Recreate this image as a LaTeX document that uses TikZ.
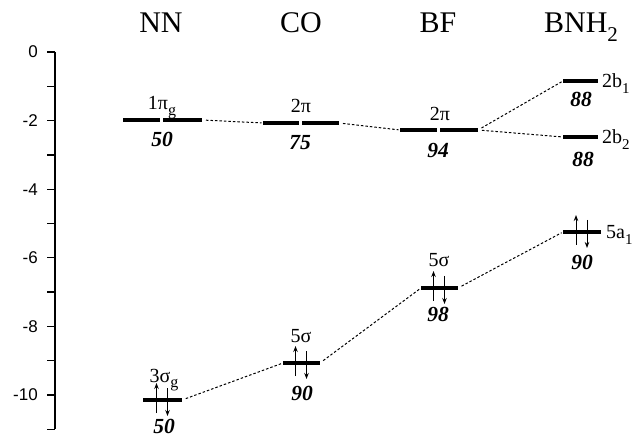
\documentclass[tikz,border=0pt]{standalone}
\usepackage{fontspec}
\setmainfont{Liberation Serif}
\newfontfamily\axisfont{Liberation Sans}
\usetikzlibrary{arrows.meta,calc}
\newcommand\lowsub[2]{\raisebox{-0.28em}{\fontsize{#1}{#1}\selectfont #2}}
\tikzset{
  level/.style={line width=4.5pt},
  link/.style={line width=1pt, dash pattern=on 2.5pt off 2pt, shorten <=4pt, shorten >=1.5pt},
  orb/.style={anchor=base, inner sep=0pt, font=\fontsize{20}{20}\selectfont},
  pop/.style={anchor=base, inner sep=0pt, font=\fontsize{21.5}{21.5}\selectfont\bfseries\itshape},
  mol/.style={anchor=base, inner sep=0pt, font=\fontsize{30}{30}\selectfont},
  axtick/.style={line width=1.3pt},
  ticklab/.style={anchor=east, inner sep=0pt, font=\axisfont\fontsize{17}{17}\selectfont},
  spin/.style={line width=0.9pt, -{Stealth[length=6pt,width=4.5pt]}},
}
\begin{document}
\begin{tikzpicture}[x=1pt,y=-1pt]
\useasboundingbox (0,0) rectangle (634,435);

% titles
\node[mol] (tNN) at (161,33) {NN};
\node[mol] (tCO) at (301,33) {CO};
\node[mol] (tBF) at (438,33) {BF};
\node[mol] (tBNH) at (581,33) {BNH\lowsub{21}{2}};

% axis
\coordinate (axtop) at (55,52);
\coordinate (axbot) at (55,429);
\draw[axtick] (axtop) -- (axbot);
\foreach \k in {0,...,11}{
  \draw[axtick] (47,{52+34.3*\k}) -- (55,{52+34.3*\k});
}
\foreach \k/\lab in {0/0,2/-2,4/-4,6/-6,8/-8,10/-10}{
  \node[ticklab] (tl\k) at (38,{52+34.3*\k}) {\lab};
}

% pi-type levels (two segments)
\coordinate (nnpL) at (123,120); \coordinate (nnpM1) at (160,120);
\coordinate (nnpM2) at (163,120); \coordinate (nnpR) at (202,120);
\coordinate (copL) at (263,123); \coordinate (copM1) at (299,123);
\coordinate (copM2) at (302,123); \coordinate (copR) at (339,123);
\coordinate (bfpL) at (400,130); \coordinate (bfpM1) at (437,130);
\coordinate (bfpM2) at (440,130); \coordinate (bfpR) at (478,130);
\draw[level] (nnpL) -- (nnpM1); \draw[level] (nnpM2) -- (nnpR);
\draw[level] (copL) -- (copM1); \draw[level] (copM2) -- (copR);
\draw[level] (bfpL) -- (bfpM1); \draw[level] (bfpM2) -- (bfpR);

% BNH2 b levels
\coordinate (bbL) at (563,81); \coordinate (bbR) at (598,81);
\coordinate (bcL) at (563,137); \coordinate (bcR) at (598,137);
\draw[level] (bbL) -- (bbR);
\draw[level] (bcL) -- (bcR);

% sigma-type levels
\coordinate (nnsL) at (143,400); \coordinate (nnsR) at (182,400); \coordinate (nnsC) at (162.5,400);
\coordinate (cosL) at (283,363); \coordinate (cosR) at (320,363); \coordinate (cosC) at (301.5,363);
\coordinate (bfsL) at (421,288); \coordinate (bfsR) at (458,288); \coordinate (bfsC) at (439.5,288);
\coordinate (baL) at (563,232); \coordinate (baR) at (601,232); \coordinate (baC) at (582,232);
\draw[level] (nnsL) -- (nnsR);
\draw[level] (cosL) -- (cosR);
\draw[level] (bfsL) -- (bfsR);
\draw[level] (baL) -- (baR);

% electron pairs
\foreach \c in {nnsC,cosC,bfsC,baC}{
  \draw[spin] ($(\c)+(-6,13)$) -- ($(\c)+(-6,-17)$);
  \draw[spin] ($(\c)+(5,-12)$) -- ($(\c)+(5,16)$);
}

% correlation lines
\draw[link] (nnpR) -- (copL);
\draw[link] (copR) -- (bfpL);
\draw[link] (bfpR) -- (bbL);
\draw[link] (bfpR) -- (bcL);
\draw[link] (nnsR) -- (cosL);
\draw[link] (cosR) -- (bfsL);
\draw[link] (bfsR) -- (baL);

% orbital labels
\node[orb] (l1) at (162,110) {1π\lowsub{16}{g}};
\node[orb] (l2) at (301,113) {2π};
\node[orb] (l3) at (440,121) {2π};
\node[orb, anchor=base west] (l4) at (602,88) {2b\lowsub{15}{1}};
\node[orb, anchor=base west] (l5) at (602,144) {2b\lowsub{15}{2}};
\node[orb, anchor=base west] (l6) at (606,239) {5a\lowsub{15}{1}};
\node[orb] (l7) at (439,267) {5σ};
\node[orb] (l8) at (301,342) {5σ};
\node[orb] (l9) at (164,382) {3σ\lowsub{16}{g}};

% percentages
\node[pop] (p1) at (162,147) {50};
\node[pop] (p2) at (300,150) {75};
\node[pop] (p3) at (438,158) {94};
\node[pop] (p4) at (581,107) {88};
\node[pop] (p5) at (583,167) {88};
\node[pop] (p6) at (582,270) {90};
\node[pop] (p7) at (438,322) {98};
\node[pop] (p8) at (302,400) {90};
\node[pop] (p9) at (164,433) {50};
\end{tikzpicture}
\end{document}
